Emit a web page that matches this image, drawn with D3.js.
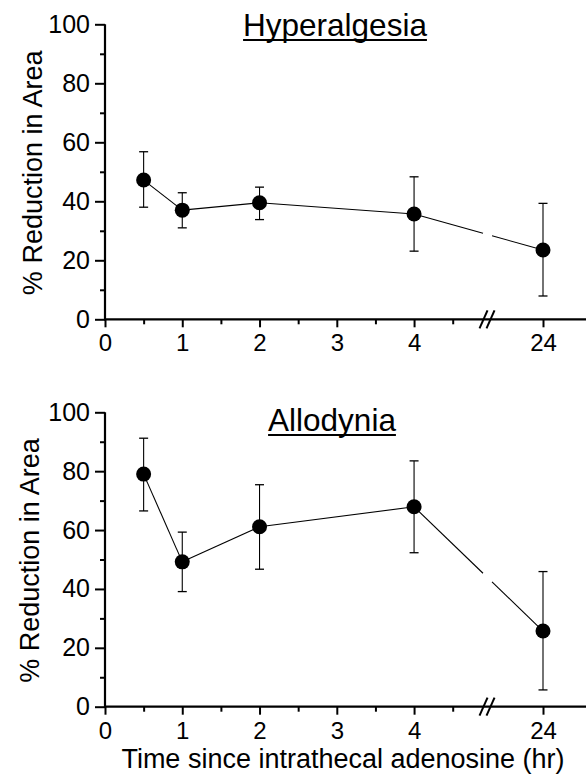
<!DOCTYPE html>
<html>
<head>
<meta charset="utf-8">
<script src="https://cdn.jsdelivr.net/npm/d3@7/dist/d3.min.js"></script>
<style>
  html, body { margin: 0; padding: 0; background: #fff; }
  svg { display: block; }
  text { font-family: "Liberation Sans", Arial, sans-serif; fill: #000; }
</style>
</head>
<body>
<svg id="chart" width="587" height="777"></svg>
<script>
// ---- data ----
const times = [0.5, 1, 2, 4, 24];
const hyperMean  = [47.2, 37.0, 39.5, 35.7, 23.5];
const hyperUpper = [56.8, 42.9, 44.8, 48.3, 39.3];
const hyperLower = [38.0, 31.0, 33.8, 23.1, 7.9];
const alloMean  = [79.0, 49.2, 61.1, 67.9, 25.7];
const alloUpper = [91.2, 59.3, 75.4, 83.5, 45.9];
const alloLower = [66.5, 39.1, 46.7, 52.3, 5.7];
const xMajorTicks = [0, 1, 2, 3, 4, 24];
const xMinorTicks = [0.5, 1.5, 2.5, 3.5, 4.5];
const yMajorTicks = [0, 20, 40, 60, 80, 100];
const yMinorTicks = [10, 30, 50, 70, 90];
const panelTitles = ["Hyperalgesia", "Allodynia"];
const yLabel = "% Reduction in Area";
const xLabel = "Time since intrathecal adenosine (hr)";

// ---- layout ----
const svg = d3.select("#chart");
const x = d3.scaleLinear().domain([0, 4.5, 24, 25]).range([105, 452.7, 543, 586]);
const xEnd = 586;
const breakFrac = 0.38; // fraction of the gap between 4.5 and 24 where the break sits

const panels = [
  { title: panelTitles[0], mean: hyperMean, up: hyperUpper, lo: hyperLower,
    yRange: [319.3, 24.3], titleY: 36, titleX: 335, yLabelX: 41.5 },
  { title: panelTitles[1], mean: alloMean, up: alloUpper, lo: alloLower,
    yRange: [706.7, 412.3], titleY: 431, titleX: 332, yLabelX: 39 }
];

const breakPx = x(4.5) + breakFrac * (x(24) - x(4.5));

panels.forEach((p, pi) => {
  const y = d3.scaleLinear().domain([0, 100]).range(p.yRange);
  const g = svg.append("g");
  const y0 = y(0);

  // y axis (major)
  const yAx = g.append("g").attr("transform", `translate(${x(0)},0)`)
    .call(d3.axisLeft(y).tickValues(yMajorTicks).tickSize(10).tickPadding(5).tickSizeOuter(0));
  yAx.select(".domain").remove();
  yAx.selectAll("line").attr("stroke", "#000").attr("stroke-width", 2);
  yAx.selectAll("text").style("font-size", "25px").attr("fill", "#000");
  // y axis (minor)
  const yAxm = g.append("g").attr("transform", `translate(${x(0)},0)`)
    .call(d3.axisLeft(y).tickValues(yMinorTicks).tickSize(5).tickFormat(""));
  yAxm.select(".domain").remove();
  yAxm.selectAll("line").attr("stroke", "#000").attr("stroke-width", 2);
  g.append("line").attr("x1", x(0)).attr("x2", x(0)).attr("y1", y(0) + 1).attr("y2", y(100))
    .attr("stroke", "#000").attr("stroke-width", 2.2);

  // x axis (major)
  const xAx = g.append("g").attr("transform", `translate(0,${y0})`)
    .call(d3.axisBottom(x).tickValues(xMajorTicks).tickFormat(d3.format("d")).tickSize(8).tickPadding(7).tickSizeOuter(0));
  xAx.select(".domain").remove();
  xAx.selectAll("line").attr("stroke", "#000").attr("stroke-width", 2);
  xAx.selectAll("text").style("font-size", "24px").attr("fill", "#000");
  const xAxm = g.append("g").attr("transform", `translate(0,${y0})`)
    .call(d3.axisBottom(x).tickValues(xMinorTicks).tickSize(5).tickFormat(""));
  xAxm.select(".domain").remove();
  xAxm.selectAll("line").attr("stroke", "#000").attr("stroke-width", 2);
  g.append("line").attr("x1", x(0) - 1).attr("x2", xEnd).attr("y1", y0).attr("y2", y0)
    .attr("stroke", "#000").attr("stroke-width", 2.2);

  // break marks
  [-3.5, 3.5].forEach(off => {
    g.append("line")
      .attr("x1", breakPx + off - 4).attr("y1", y0 + 9)
      .attr("x2", breakPx + off + 4).attr("y2", y0 - 9)
      .attr("stroke", "#000").attr("stroke-width", 2);
  });

  // connecting line with gap at the break
  const pts = times.map((t, i) => [x(t), y(p.mean[i])]);
  for (let i = 0; i < pts.length - 1; i++) {
    const [ax, ay] = pts[i], [bx, by] = pts[i + 1];
    const segs = [];
    if (ax < breakPx && bx > breakPx) {
      const gx1 = breakPx - 4, gx2 = breakPx + 5;
      const iy = gx => ay + (by - ay) * (gx - ax) / (bx - ax);
      segs.push([[ax, ay], [gx1, iy(gx1)]], [[gx2, iy(gx2)], [bx, by]]);
    } else segs.push([[ax, ay], [bx, by]]);
    segs.forEach(s => g.append("path").attr("d", d3.line()(s))
      .attr("fill", "none").attr("stroke", "#000").attr("stroke-width", 1.1));
  }

  // error bars
  times.forEach((t, i) => {
    const cx = x(t);
    g.append("line").attr("x1", cx).attr("x2", cx).attr("y1", y(p.up[i])).attr("y2", y(p.lo[i]))
      .attr("stroke", "#000").attr("stroke-width", 1.1);
    [p.up[i], p.lo[i]].forEach(v => {
      g.append("line").attr("x1", cx - 4.5).attr("x2", cx + 4.5).attr("y1", y(v)).attr("y2", y(v))
        .attr("stroke", "#000").attr("stroke-width", 1.3);
    });
  });

  // markers
  g.selectAll("circle.pt").data(times).enter().append("circle")
    .attr("cx", d => x(d)).attr("cy", (d, i) => y(p.mean[i])).attr("r", 7.5).attr("fill", "#000");

  // title with underline
  const tt = g.append("text").attr("x", p.titleX).attr("y", p.titleY)
    .attr("text-anchor", "middle").style("font-size", "31.5px").text(p.title);
  const w = tt.node().getComputedTextLength();
  g.append("line").attr("x1", p.titleX - w / 2).attr("x2", p.titleX + w / 2)
    .attr("y1", p.titleY + 4).attr("y2", p.titleY + 4).attr("stroke", "#000").attr("stroke-width", 2);

  // y label
  const cy = (p.yRange[0] + p.yRange[1]) / 2 + 1;
  g.append("text").attr("transform", `translate(${p.yLabelX},${cy}) rotate(-90)`)
    .attr("text-anchor", "middle").style("font-size", "27px").text(yLabel);
});

// x label
svg.append("text").attr("x", 343).attr("y", 768).attr("text-anchor", "middle")
  .style("font-size", "27px").text(xLabel);
</script>
</body>
</html>
